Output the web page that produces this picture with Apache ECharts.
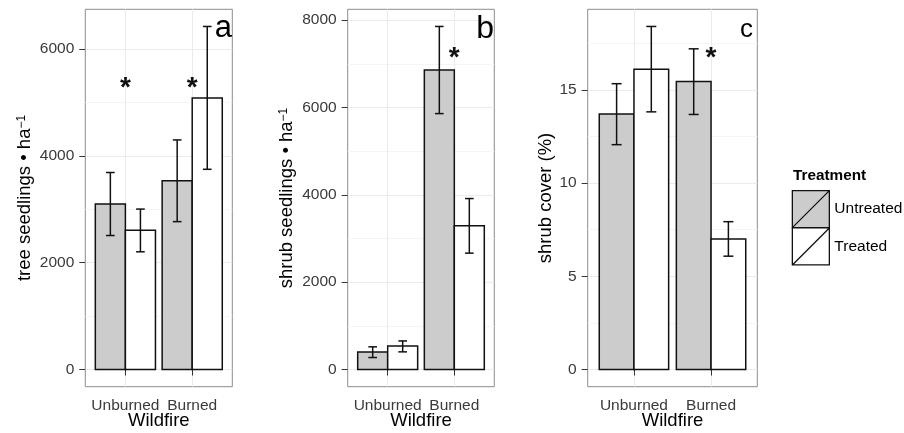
<!DOCTYPE html>
<html>
<head>
<meta charset="utf-8">
<script src="https://cdn.jsdelivr.net/npm/echarts@6/dist/echarts.min.js"></script>
<style>
html,body{margin:0;padding:0;background:#fff;}
#chart{width:904px;height:433px;}
</style>
</head>
<body>
<div id="chart"></div>
<script>
// ---------- data ----------
const categories = ['Unburned', 'Burned'];
const treatments = ['Untreated', 'Treated'];

// panel a: tree seedlings per ha
const treeUntreated     = [3100, 3535];
const treeUntreatedLow  = [2510, 2770];
const treeUntreatedHigh = [3690, 4300];
const treeTreated       = [2610, 5085];
const treeTreatedLow    = [2205, 3750];
const treeTreatedHigh   = [3005, 6425];
const treeStars         = [5375, 5375];

// panel b: shrub seedlings per ha
const seedUntreated     = [400, 6860];
const seedUntreatedLow  = [275, 5860];
const seedUntreatedHigh = [520, 7855];
const seedTreated       = [540, 3290];
const seedTreatedLow    = [405, 2665];
const seedTreatedHigh   = [655, 3915];
const seedStars         = [null, 7275];

// panel c: shrub cover (%)
const coverUntreated     = [13.7, 15.45];
const coverUntreatedLow  = [12.06, 13.68];
const coverUntreatedHigh = [15.33, 17.2];
const coverTreated       = [16.1, 7.0];
const coverTreatedLow    = [13.82, 6.08];
const coverTreatedHigh   = [18.4, 7.93];
const coverStars         = [null, 17.0];

// tick labels
const treeTicks  = [0, 2000, 4000, 6000];
const treeMinor  = [1000, 3000, 5000];
const seedTicks  = [0, 2000, 4000, 6000, 8000];
const seedMinor  = [1000, 3000, 5000, 7000];
const coverTicks = [0, 5, 10, 15];
const coverMinor = [2.5, 7.5, 12.5, 17.5];
const panelLetters = ['a', 'b', 'c'];

// ---------- styles ----------
const FONT = 'Liberation Sans, Arial, Helvetica, sans-serif';
const FILLS = ['#cccccc', '#ffffff'];
const STROKE = '#111111';
const LW = 1.5;
const catPos = categories.map((c, i) => i + 1);

const panels = [
  {grid:{left:85.3, top:9.3, width:147, height:377.4},
   name:'{m|tree seedlings • ha}{s|−1}', nameGap:51,
   u:[treeUntreated, treeUntreatedLow, treeUntreatedHigh],
   t:[treeTreated, treeTreatedLow, treeTreatedHigh],
   stars:treeStars, ticks:treeTicks, minor:treeMinor,
   letter:{x:232, y:28, size:31}},
  {grid:{left:347.7, top:9.3, width:146.6, height:377.4},
   name:'{m|shrub seedlings • ha}{s|−1}', nameGap:51,
   u:[seedUntreated, seedUntreatedLow, seedUntreatedHigh],
   t:[seedTreated, seedTreatedLow, seedTreatedHigh],
   stars:seedStars, ticks:seedTicks, minor:seedMinor,
   letter:{x:494, y:29.5, size:32}},
  {grid:{left:587.7, top:9.3, width:169.6, height:377.4},
   name:'{m|shrub cover (%)}', nameGap:32,
   u:[coverUntreated, coverUntreatedLow, coverUntreatedHigh],
   t:[coverTreated, coverTreatedLow, coverTreatedHigh],
   stars:coverStars, ticks:coverTicks, minor:coverMinor,
   letter:{x:753, y:30, size:26}}
];

const grids = [], xAxes = [], yAxes = [], series = [], graphics = [];

function barRender(side) {
  return function (params, api) {
    const x = api.value(0), v = api.value(1);
    const xl = side === 0 ? x - 0.45 : x;
    const xr = side === 0 ? x : x + 0.45;
    const p0 = api.coord([xl, v]);
    const p1 = api.coord([xr, 0]);
    return {type:'rect',
      shape:{x:p0[0], y:p0[1], width:p1[0]-p0[0], height:p1[1]-p0[1]},
      style:{fill:FILLS[side], stroke:STROKE, lineWidth:LW}};
  };
}
function errRender(side) {
  return function (params, api) {
    const x = api.value(0) + (side === 0 ? -0.225 : 0.225);
    const lo = api.coord([x, api.value(1)]);
    const hi = api.coord([x, api.value(2)]);
    const l = api.coord([x - 0.065, 0])[0], r = api.coord([x + 0.065, 0])[0];
    const st = {stroke:STROKE, lineWidth:LW};
    return {type:'group', children:[
      {type:'line', shape:{x1:lo[0], y1:lo[1], x2:hi[0], y2:hi[1]}, style:st},
      {type:'line', shape:{x1:l, y1:lo[1], x2:r, y2:lo[1]}, style:st},
      {type:'line', shape:{x1:l, y1:hi[1], x2:r, y2:hi[1]}, style:st}
    ]};
  };
}
function starRender(params, api) {
  const p = api.coord([api.value(0), api.value(1)]);
  return {type:'text', x:p[0], y:p[1] + 6,
    style:{text:'*', fill:'#111', font:'bold 28px ' + FONT, align:'center', verticalAlign:'middle'}};
}

panels.forEach((p, gi) => {
  grids.push(Object.assign({show:true, borderColor:'#8c8c8c', borderWidth:1, backgroundColor:'#fff',
    containLabel:false, outerBoundsMode:'none'}, p.grid));
  const maxHigh = Math.max(...p.u[2], ...p.t[2]);
  const ymin = -0.05 * maxHigh, ymax = 1.05 * maxHigh;
  xAxes.push({
    type:'value', gridIndex:gi, min:0.4, max:2.6,
    name:'Wildfire', nameLocation:'middle', nameGap:25, nameMoveOverlap:false,
    nameTextStyle:{fontSize:18.5, color:'#000', fontFamily:FONT},
    axisLine:{show:false},
    axisTick:{show:true, length:6, customValues:catPos, lineStyle:{color:'#333', width:1}},
    axisLabel:{customValues:catPos, margin:11, fontSize:15.5, color:'#3a3a3a', fontFamily:FONT,
      formatter:v => categories[Math.round(v) - 1]},
    splitLine:{show:true, lineStyle:{color:'#ebebeb', width:1}}
  });
  yAxes.push({
    type:'value', gridIndex:gi, min:ymin, max:ymax, position:'left',
    name:p.name, nameLocation:'middle', nameRotate:90, nameGap:p.nameGap, nameMoveOverlap:false,
    nameTextStyle:{color:'#000', fontFamily:FONT, fontSize:18.5,
      rich:{m:{fontSize:18.5, fontFamily:FONT, color:'#000'},
            s:{fontSize:12, fontFamily:FONT, color:'#000', verticalAlign:'top', lineHeight:12}}},
    axisLine:{show:false},
    axisTick:{show:true, length:6, customValues:p.ticks, lineStyle:{color:'#333', width:1}},
    axisLabel:{customValues:p.ticks, margin:11, fontSize:15.5, color:'#3a3a3a', fontFamily:FONT,
      formatter:v => String(v)},
    splitLine:{show:true, lineStyle:{color:'#ebebeb', width:1}}
  });
  yAxes.push({
    type:'value', gridIndex:gi, min:ymin, max:ymax, position:'left',
    axisLine:{show:false},
    axisTick:{show:false, customValues:p.minor},
    axisLabel:{show:false, customValues:p.minor},
    splitLine:{show:true, lineStyle:{color:'#f5f5f5', width:1}}
  });
  const yi = gi * 2;
  [p.u, p.t].forEach((d, side) => {
    series.push({
      type:'custom', name:treatments[side], xAxisIndex:gi, yAxisIndex:yi,
      itemStyle:{color:FILLS[side]},
      renderItem:barRender(side),
      data:catPos.map((x, i) => [x, d[0][i]]), z:2
    });
  });
  [p.u, p.t].forEach((d, side) => {
    series.push({
      type:'custom', name:treatments[side], xAxisIndex:gi, yAxisIndex:yi,
      itemStyle:{color:FILLS[side]},
      renderItem:errRender(side),
      data:catPos.map((x, i) => [x, d[1][i], d[2][i]]), z:3
    });
  });
  series.push({
    type:'custom', name:'stars', xAxisIndex:gi, yAxisIndex:yi,
    renderItem:starRender, z:4,
    data:catPos.map((x, i) => [x, p.stars[i]]).filter(r => r[1] !== null)
  });
  graphics.push({type:'text', x:p.letter.x, y:p.letter.y, z:10,
    style:{text:panelLetters[gi], fill:'#000', font:p.letter.size + 'px ' + FONT, align:'right', verticalAlign:'middle'}});
});

graphics.push({type:'text', x:793, y:176, z:10,
  style:{text:'Treatment', fill:'#000', font:'bold 15.3px ' + FONT, align:'left', verticalAlign:'middle'}});

const option = {
  animation:false,
  backgroundColor:'#fff',
  grid:grids, xAxis:xAxes, yAxis:yAxes, series:series, graphic:graphics,
  legend:{
    orient:'vertical', left:791.7, top:190, padding:0,
    itemWidth:37, itemHeight:37, itemGap:-1,
    selectedMode:false,
    textStyle:{fontSize:15.5, color:'#000', fontFamily:FONT},
    data:treatments.map((t, i) => ({name:t,
      icon:'path://M0,0L10,0L10,10L0,10Z M0,10L10,0',
      itemStyle:{color:FILLS[i], borderColor:STROKE, borderWidth:1.3}}))
  }
};
const chart = echarts.init(document.getElementById('chart'), null, {renderer:'canvas'});
chart.setOption(option);
</script>
</body>
</html>
